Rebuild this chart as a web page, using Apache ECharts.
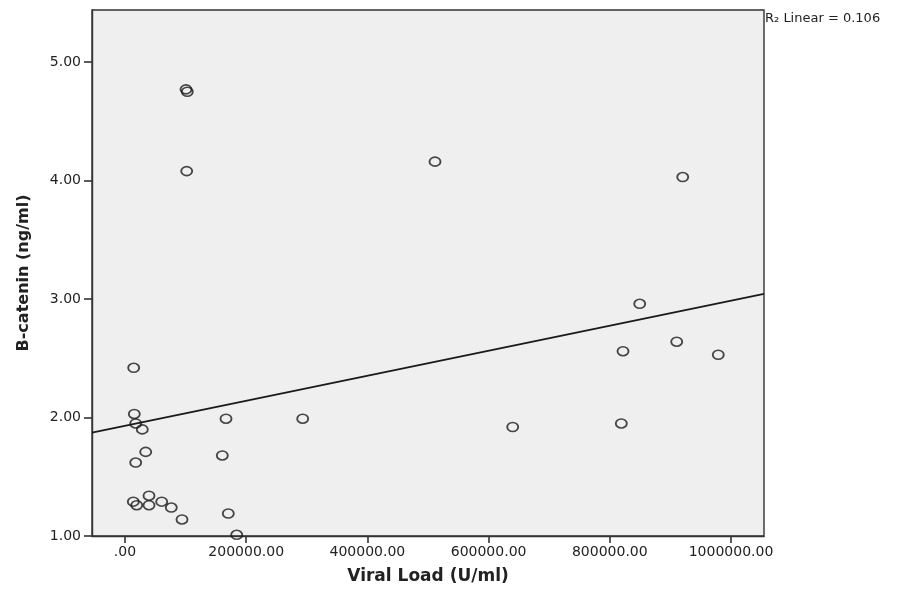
<!DOCTYPE html>
<html>
<head>
<meta charset="utf-8">
<title>B-catenin vs Viral Load</title>
<script src="https://cdn.jsdelivr.net/npm/echarts@6/dist/echarts.min.js"></script>
<style>
  html, body { margin: 0; padding: 0; background: #fff; }
  #chart { width: 908px; height: 590px; }
</style>
</head>
<body>
<div id="chart"></div>
<script>
// viral load (U/ml) and B-catenin (ng/ml)
const viralLoad = [
  15350, 17660, 28550, 34160, 17660, 166670, 160560, 293240,
  13700, 19310, 39600, 39600, 60560, 76400, 94060, 170470, 184330,
  14360, 511560, 639790, 100660, 102810, 101820,
  920330, 849360, 821800, 910420, 979000, 819000
];
const bCatenin = [
  2.03, 1.95, 1.90, 1.71, 1.62, 1.99, 1.68, 1.99,
  1.29, 1.26, 1.34, 1.26, 1.29, 1.24, 1.14, 1.19, 1.01,
  2.42, 4.16, 1.92, 4.77, 4.75, 4.08,
  4.03, 2.96, 2.56, 2.64, 2.53, 1.95
];

// fit line ends (x, y) at the axis limits
const fitX = [-54455, 1054455];
const fitY = [1.873, 3.044];

const xTicks = [0, 200000, 400000, 600000, 800000, 1000000];
const yTicks = [1, 2, 3, 4, 5];
const rSquared = '0.106';

const chart = echarts.init(document.getElementById('chart'));

const points = viralLoad.map((v, i) => [v, bCatenin[i]]);
const fitLine = fitX.map((v, i) => [v, fitY[i]]);

const textColor = '#222';
const axisColor = '#333';
const font = 'DejaVu Sans';

chart.setOption({
  animation: false,
  backgroundColor: '#fff',
  grid: {
    left: 92, top: 10, right: 144, bottom: 53,
    show: true,
    backgroundColor: '#efefef',
    borderColor: axisColor,
    borderWidth: 1.4
  },
  graphic: [{
    type: 'text',
    left: 765, top: 12,
    style: {
      text: 'R₂ Linear = ' + rSquared,
      fill: textColor,
      font: '13px "DejaVu Sans"'
    }
  }],
  xAxis: {
    type: 'value',
    min: fitX[0],
    max: fitX[1],
    name: 'Viral Load (U/ml)',
    nameLocation: 'middle',
    nameGap: 32,
    nameTextStyle: { fontFamily: font, fontWeight: 'bold', fontSize: 17, color: textColor },
    axisLine: { show: true, onZero: false, lineStyle: { color: axisColor, width: 1.4 } },
    axisTick: { show: true, length: 7, customValues: xTicks, lineStyle: { color: axisColor, width: 1.6 } },
    axisLabel: {
      customValues: xTicks,
      margin: 9,
      fontFamily: font,
      fontSize: 14,
      color: textColor,
      formatter: v => v === 0 ? '.00' : v.toFixed(2)
    },
    splitLine: { show: false }
  },
  yAxis: {
    type: 'value',
    min: 1,
    max: 5.44,
    name: 'B-catenin (ng/ml)',
    nameLocation: 'middle',
    nameGap: 60,
    nameTextStyle: { fontFamily: font, fontWeight: 'bold', fontSize: 16, color: textColor },
    axisLine: { show: true, onZero: false, lineStyle: { color: axisColor, width: 1.4 } },
    axisTick: { show: true, length: 8, customValues: yTicks, lineStyle: { color: axisColor, width: 1.6 } },
    axisLabel: {
      customValues: yTicks,
      margin: 11,
      fontFamily: font,
      fontSize: 14,
      color: textColor,
      formatter: v => v.toFixed(2)
    },
    splitLine: { show: false }
  },
  series: [
    {
      type: 'scatter',
      data: points,
      symbol: 'circle',
      symbolSize: [11, 9],
      clip: true,
      itemStyle: { color: 'rgba(0,0,0,0)', borderColor: '#1a1a1a', borderWidth: 1.7 }
    },
    {
      type: 'line',
      data: fitLine,
      symbol: 'none',
      lineStyle: { color: '#1a1a1a', width: 1.7 }
    }
  ]
});
</script>
</body>
</html>
